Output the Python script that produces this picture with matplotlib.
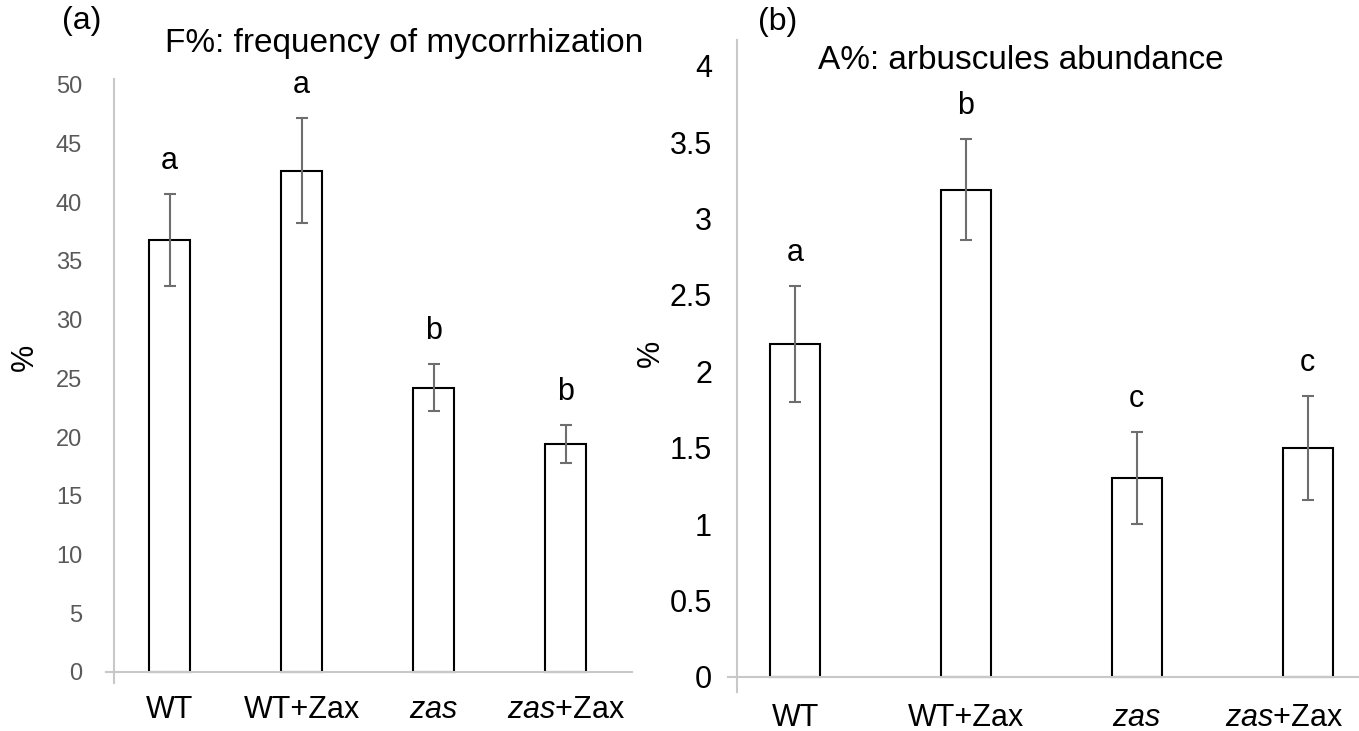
import numpy as np
import matplotlib.pyplot as plt
from matplotlib.transforms import ScaledTranslation

plt.rcParams['font.family'] = ['Liberation Sans', 'DejaVu Sans']
plt.rcParams['mathtext.fontset'] = 'custom'
plt.rcParams['mathtext.rm'] = 'Liberation Sans'
plt.rcParams['mathtext.it'] = 'Liberation Sans:italic'

categories = ['WT', 'WT+Zax', r'$\mathit{zas}$', r'$\mathit{zas}$+Zax']

f_values = [36.8, 42.7, 24.2, 19.4]
f_errors = [3.9, 4.5, 2.0, 1.6]
f_letters = ['a', 'a', 'b', 'b']

a_values = [2.18, 3.19, 1.30, 1.50]
a_errors = [0.38, 0.33, 0.30, 0.34]
a_letters = ['a', 'b', 'c', 'c']

W, H = 1359, 731


def px_axes(fig, x0, x1, y_top, y_bot):
    return fig.add_axes([x0 / W, (H - y_bot) / H, (x1 - x0) / W, (y_bot - y_top) / H])


def draw_panel(ax, values, errors, letters, width, ylim, xlim, yticks,
               tick_color, tick_size, tick_pad, label_pad):
    x = np.arange(len(values))
    ax.bar(x, values, width=width, color='white', edgecolor='black', linewidth=1.5, zorder=2)
    ax.errorbar(x, values, yerr=errors, fmt='none', ecolor='#6e6e6e',
                elinewidth=1.5, capsize=4, capthick=1.5, zorder=3)
    for xi, v, e, l in zip(x, values, errors, letters):
        ax.annotate(l, (xi, v + e), xytext=(0, 13), textcoords='offset points',
                    ha='center', va='bottom', fontsize=22)
    ax.set_xlim(*xlim)
    ax.set_ylim(*ylim)
    ax.set_yticks(yticks)
    ax.set_yticklabels([f'{t:g}' for t in yticks])
    ax.tick_params(axis='y', length=0, pad=tick_pad, colors=tick_color, labelsize=tick_size)
    ax.set_xticks(x)
    ax.set_xticklabels(categories)
    ax.tick_params(axis='x', length=0, pad=label_pad, labelsize=22)
    for s in ['top', 'right', 'bottom']:
        ax.spines[s].set_visible(False)
    ax.spines['left'].set_color('#c8c8c8')
    ax.spines['left'].set_linewidth(1.5)
    # zero line reaching a little past the left spine
    ax.plot([-0.015, 1.0], [0, 0], transform=ax.get_yaxis_transform(), color='#c8c8c8',
            linewidth=1.5, clip_on=False, zorder=4)


fig = plt.figure(figsize=(W / 100, H / 100), dpi=100)

ax1 = px_axes(fig, 114, 632, 79, 683)
draw_panel(ax1, f_values, f_errors, f_letters, 0.31, (-0.94, 50.5), (-0.42, 3.5),
           np.arange(0, 51, 5), '#595959', 17, 23, 9)

ax2 = px_axes(fig, 737, 1359, 40, 692)
draw_panel(ax2, a_values, a_errors, a_letters, 0.29, (-0.1, 4.17), (-0.34, 3.30),
           np.arange(0, 4.01, 0.5), 'black', 22, 18, 8)
# last label sits a bit left of its bar, as in the original
last = ax2.get_xticklabels()[-1]
last.set_transform(last.get_transform() + ScaledTranslation(-0.24, 0, fig.dpi_scale_trans))

fig.text(25 / W, 1 - 357 / H, '%', fontsize=22, rotation=90, ha='center', va='center')
fig.text(651 / W, 1 - 353 / H, '%', fontsize=22, rotation=90, ha='center', va='center')

fig.text(62 / W, 1 - 29 / H, '(a)', fontsize=23, ha='left', va='baseline')
fig.text(165 / W, 1 - 52 / H, 'F%: frequency of mycorrhization', fontsize=24, ha='left', va='baseline')
fig.text(758 / W, 1 - 30 / H, '(b)', fontsize=23, ha='left', va='baseline')
fig.text(818 / W, 1 - 69 / H, 'A%: arbuscules abundance', fontsize=24, ha='left', va='baseline')

fig.savefig('out.png', dpi=100)
